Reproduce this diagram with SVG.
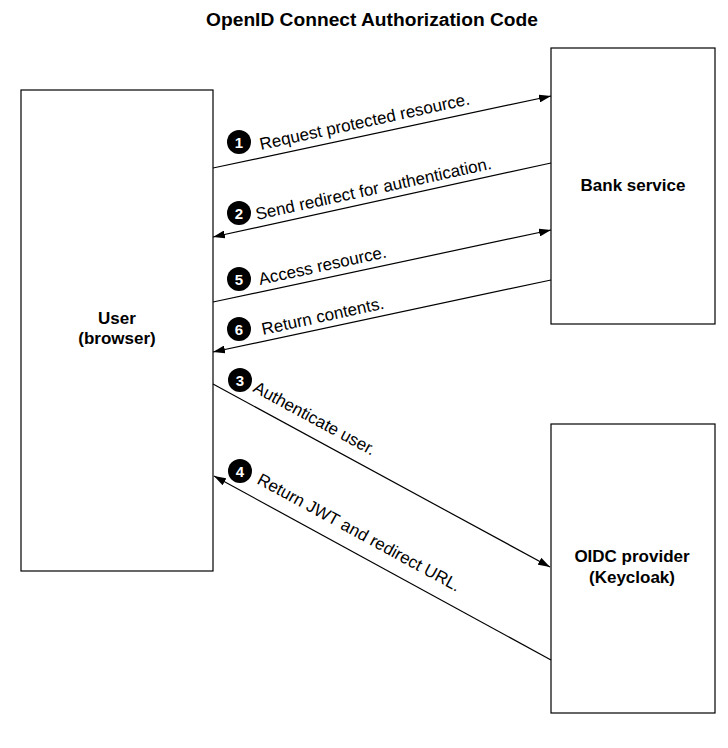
<svg xmlns="http://www.w3.org/2000/svg" width="728" height="748" viewBox="0 0 728 748">
<style>
.box{fill:#fff;stroke:#000;stroke-width:1.2}
.lbl{font-family:"Liberation Sans",Arial,sans-serif;font-size:17px;font-weight:bold;text-anchor:middle;fill:#000}
.edge{stroke:#000;stroke-width:1.2;fill:none}
.etxt{font-family:"Liberation Sans",Arial,sans-serif;font-size:17px;fill:#000}
.num{font-family:"Liberation Sans",Arial,sans-serif;font-size:15px;font-weight:bold;fill:#fff;text-anchor:middle}
</style>
<defs>
<marker id="ah" viewBox="0 0 12 8" refX="12" refY="4" markerWidth="12" markerHeight="8" markerUnits="userSpaceOnUse" orient="auto">
<path d="M0,0 L12,4 L0,8 Z" fill="#000"/>
</marker>
</defs>
<rect width="728" height="748" fill="#fff"/>
<text x="372" y="26" style="font-family:'Liberation Sans',Arial,sans-serif;font-size:19.2px;font-weight:bold;text-anchor:middle">OpenID Connect Authorization Code</text>
<g id="user">
<rect class="box" x="21" y="90" width="192" height="481"/>
<text class="lbl" x="117" y="324">User</text>
<text class="lbl" x="117" y="344">(browser)</text>
</g>
<g id="bank">
<rect class="box" x="551" y="48" width="164" height="276"/>
<text class="lbl" x="633" y="191">Bank service</text>
</g>
<g id="oidc">
<rect class="box" x="551" y="424" width="164" height="289"/>
<text class="lbl" x="632" y="562">OIDC provider</text>
<text class="lbl" x="632" y="583">(Keycloak)</text>
</g>
<g id="connectors">
<line class="edge" x1="213" y1="168" x2="551" y2="96" marker-end="url(#ah)"/>
<line class="edge" x1="551" y1="163" x2="213" y2="237" marker-end="url(#ah)"/>
<line class="edge" x1="213" y1="302" x2="551" y2="230" marker-end="url(#ah)"/>
<line class="edge" x1="551" y1="280" x2="213" y2="352" marker-end="url(#ah)"/>
<line class="edge" x1="213" y1="384" x2="550" y2="567" marker-end="url(#ah)"/>
<line class="edge" x1="551" y1="660" x2="214" y2="476" marker-end="url(#ah)"/>
<g>
<circle cx="239" cy="142" r="12"/><text class="num" x="239" y="147.5">1</text>
<text class="etxt" transform="translate(261,150) rotate(-12.3)">Request protected resource.</text>
</g>
<g>
<circle cx="239" cy="213" r="12"/><text class="num" x="239" y="218.5">2</text>
<text class="etxt" transform="translate(257,220) rotate(-12.3)">Send redirect for authentication.</text>
</g>
<g>
<circle cx="239" cy="279" r="12"/><text class="num" x="239" y="284.5">5</text>
<text class="etxt" transform="translate(260,285) rotate(-12.3)">Access resource.</text>
</g>
<g>
<circle cx="239" cy="329" r="12"/><text class="num" x="239" y="334.5">6</text>
<text class="etxt" transform="translate(263,335) rotate(-12.3)">Return contents.</text>
</g>
<g>
<circle cx="240" cy="380" r="12"/><text class="num" x="240" y="385.5">3</text>
<text class="etxt" transform="translate(252,391) rotate(28.4)">Authenticate user.</text>
</g>
<g>
<circle cx="240" cy="471" r="12"/><text class="num" x="240" y="476.5">4</text>
<text class="etxt" transform="translate(256,483) rotate(28.5)">Return JWT and redirect URL.</text>
</g>
</g>
</svg>
